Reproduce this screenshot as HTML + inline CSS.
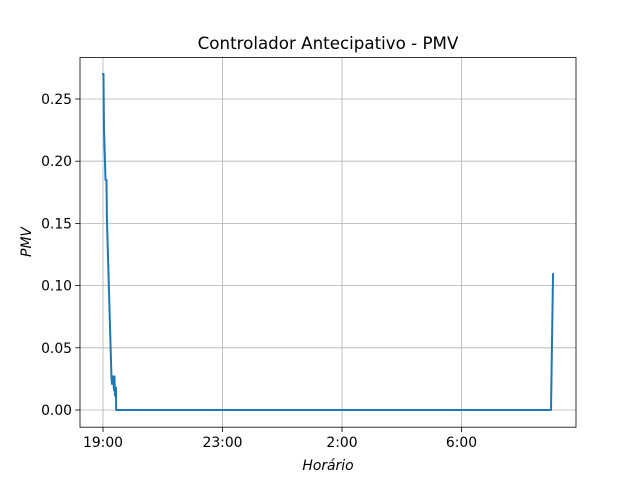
<!DOCTYPE html>
<html><head><meta charset="utf-8"><style>
body{margin:0;background:#fff;}
svg text{font-family:"DejaVu Sans","Liberation Sans",sans-serif;fill:#000;}
</style></head><body>
<svg id="chart" width="640" height="480" viewBox="0 0 640 480">
<rect width="640" height="480" fill="#fff"/>
<g id="grid"></g>
<g id="series"></g>
<rect x="80" y="57.6" width="496" height="369.6" fill="none" stroke="#000" stroke-width="0.8"/>
<g id="ticks"></g>
<text x="328" y="49" font-size="16.7" text-anchor="middle">Controlador Antecipativo - PMV</text>
<text x="328" y="470" font-size="13.9" font-style="italic" text-anchor="middle">Horário</text>
<text x="31" y="242" font-size="13.9" font-style="italic" text-anchor="middle" transform="rotate(-90 31 242)">PMV</text>
</svg>
<script>
const xTickLabels=["19:00","23:00","2:00","6:00"];
const xTickPos=[0,1,2,3];
const yTicks=[0,0.05,0.10,0.15,0.20,0.25];
const xVals=[-0.008,0.004,0.008,0.021,0.029,0.033,0.071,0.075,0.084,0.092,0.096,0.100,0.105,0.109,0.110,0.117,3.749,3.766];
const pmvVals=[0.270,0.270,0.227,0.185,0.185,0.153,0.026,0.021,0.027,0.016,0.027,0.012,0.011,0.018,0,0,0,0.110];
const ns="http://www.w3.org/2000/svg";
const X=v=>103+v*119.5;
const Y=v=>410-v*1244;
const grid=document.getElementById('grid'),ticks=document.getElementById('ticks'),series=document.getElementById('series');
function mk(t,a,p){const e=document.createElementNS(ns,t);for(const k in a)e.setAttribute(k,a[k]);p.appendChild(e);return e;}
xTickPos.forEach((v,i)=>{
 const g=mk('line',{x1:X(v),x2:X(v),y1:57.6,y2:427.2,stroke:'#b0b0b0','stroke-width':0.8},grid);
 
 
 const t=mk('line',{x1:X(v),x2:X(v),y1:427.2,y2:432,stroke:'#000','stroke-width':0.8},ticks);
 
 
 const l=mk('text',{x:X(v),y:447,'font-size':13.9,'text-anchor':'middle'},ticks);
 l.textContent=xTickLabels[i];
 
 
});
yTicks.forEach(v=>{
 const g=mk('line',{x1:80,x2:576,y1:Y(v),y2:Y(v),stroke:'#b0b0b0','stroke-width':0.8},grid);
 
 
 const t=mk('line',{x1:75.2,x2:80,y1:Y(v),y2:Y(v),stroke:'#000','stroke-width':0.8},ticks);
 
 
 const l=mk('text',{x:72,y:Y(v)+5,'font-size':13.9,'text-anchor':'end'},ticks);
 l.textContent=v.toFixed(2);
 
 
});
const pts=xVals.map((x,i)=>X(x)+','+Y(pmvVals[i])).join(' ');
const pl=mk('polyline',{points:pts,fill:'none',stroke:'#1f77b4','stroke-width':2,'stroke-linejoin':'round'},series);


</script>
</body></html>
